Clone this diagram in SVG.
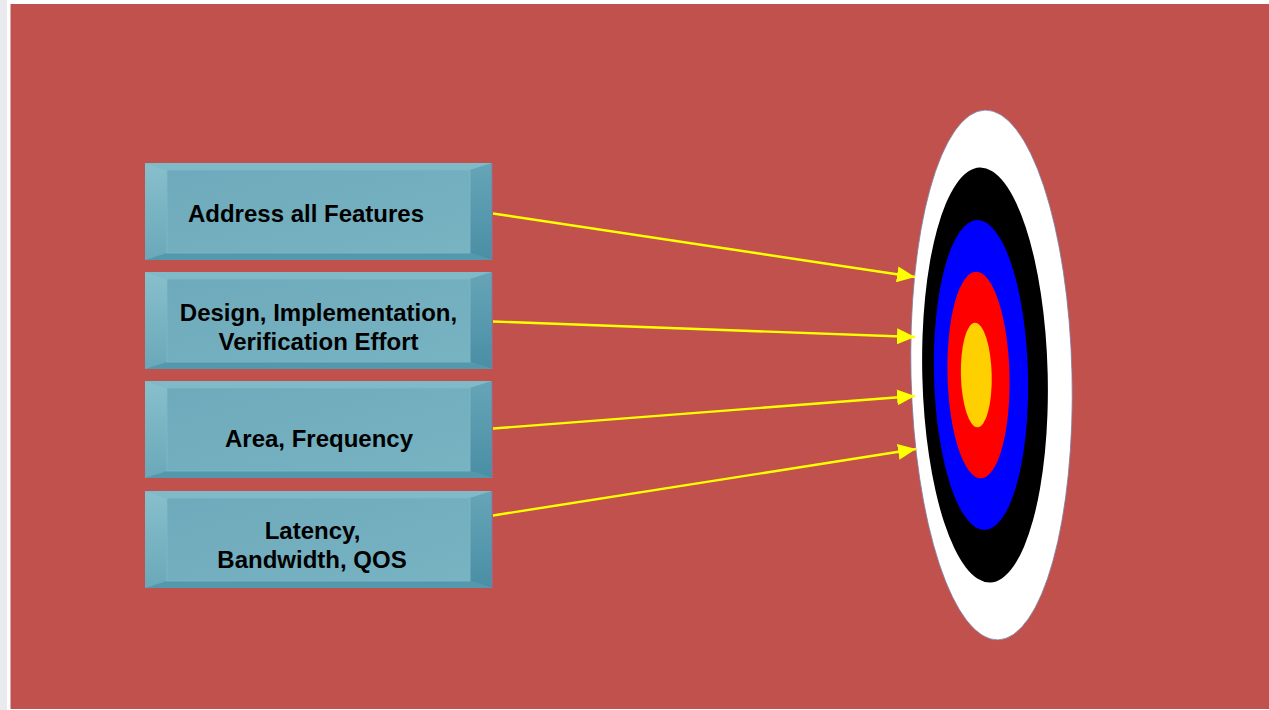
<svg xmlns="http://www.w3.org/2000/svg" width="1269" height="710" viewBox="0 0 1269 710">
  <style>
    .lbl { font-family: "Liberation Sans", Arial, sans-serif; font-weight: bold; font-size: 24px; fill: #000000; text-anchor: middle; }
    .conn { stroke: #ffff00; stroke-width: 2.4; fill: none; marker-end: url(#arrow); }
  </style>
  <defs>
    <linearGradient id="faceGrad" x1="0" y1="0" x2="1" y2="1">
      <stop offset="0" stop-color="#6eaabb"/>
      <stop offset="1" stop-color="#78b3c2"/>
    </linearGradient>
    <linearGradient id="leftGrad" x1="0" y1="0" x2="0" y2="1">
      <stop offset="0" stop-color="#88bfcc"/>
      <stop offset="1" stop-color="#6aa8b9"/>
    </linearGradient>
    <linearGradient id="rightGrad" x1="0" y1="0" x2="0" y2="1">
      <stop offset="0" stop-color="#66a5b7"/>
      <stop offset="1" stop-color="#4a8ea5"/>
    </linearGradient>
    <marker id="arrow" markerUnits="userSpaceOnUse" markerWidth="18" markerHeight="16" viewBox="0 0 18 16" refX="18" refY="8" orient="auto">
      <path d="M0,0 L18,8 L0,16 Z" fill="#ffff00"/>
    </marker>
    <g id="bevel">
      <rect x="0" y="0" width="347" height="97" fill="#6eabbc"/>
      <polygon points="0,0 347,0 325,7 22,7" fill="#80b9c7"/>
      <polygon points="0,0 22,7 22,90 0,97" fill="url(#leftGrad)"/>
      <polygon points="347,0 347,97 325,90 325,7" fill="url(#rightGrad)"/>
      <polygon points="0,97 22,90 325,90 347,97" fill="#5498ad"/>
      <rect x="22" y="7" width="303" height="83" fill="url(#faceGrad)" stroke="#80b9c7" stroke-width="0.8"/>
      <line x1="347" y1="0" x2="347" y2="97" stroke="#8a74a4" stroke-width="1"/>
    </g>
  </defs>

  <rect x="0" y="0" width="1269" height="710" fill="#e8eaed"/>
  <rect x="7" y="0" width="1262" height="710" fill="#ffffff"/>
  <rect x="10.5" y="4" width="1258.5" height="705" fill="#c0514d"/>

  <g id="node-features">
    <use href="#bevel" x="145" y="163"/>
    <text class="lbl" x="306" y="222">Address all Features</text>
  </g>
  <g id="node-effort">
    <use href="#bevel" x="145" y="272"/>
    <text class="lbl" x="318.5" y="321">Design, Implementation,</text>
    <text class="lbl" x="318.5" y="349.5">Verification Effort</text>
  </g>
  <g id="node-area">
    <use href="#bevel" x="145" y="381"/>
    <text class="lbl" x="319" y="447">Area, Frequency</text>
  </g>
  <g id="node-latency">
    <use href="#bevel" x="145" y="491"/>
    <text class="lbl" x="312.5" y="539">Latency,</text>
    <text class="lbl" x="312" y="568">Bandwidth, QOS</text>
  </g>

  <g id="target">
    <ellipse cx="991.5" cy="375" rx="80.5" ry="265" fill="#ffffff" stroke="#7d7a9e" stroke-width="0.8" transform="rotate(-1.4 991.5 375)"/>
    <ellipse cx="985" cy="375" rx="62.7" ry="207.5" fill="#000000" transform="rotate(-1.4 985 375)"/>
    <ellipse cx="981" cy="375" rx="47" ry="155" fill="#0000ff" transform="rotate(-1.4 981 375)"/>
    <ellipse cx="978.5" cy="375" rx="31" ry="103.3" fill="#ff0000" transform="rotate(-1.4 978.5 375)"/>
    <ellipse cx="976.3" cy="375" rx="15.4" ry="52.3" fill="#ffd000" transform="rotate(-1.4 976.3 375)"/>
  </g>

  <g id="connectors">
    <line class="conn" x1="493" y1="213.5" x2="915" y2="277"/>
    <line class="conn" x1="493" y1="321.5" x2="915" y2="337"/>
    <line class="conn" x1="493" y1="428.5" x2="915" y2="396"/>
    <line class="conn" x1="493" y1="515.5" x2="916" y2="449"/>
  </g>
</svg>
